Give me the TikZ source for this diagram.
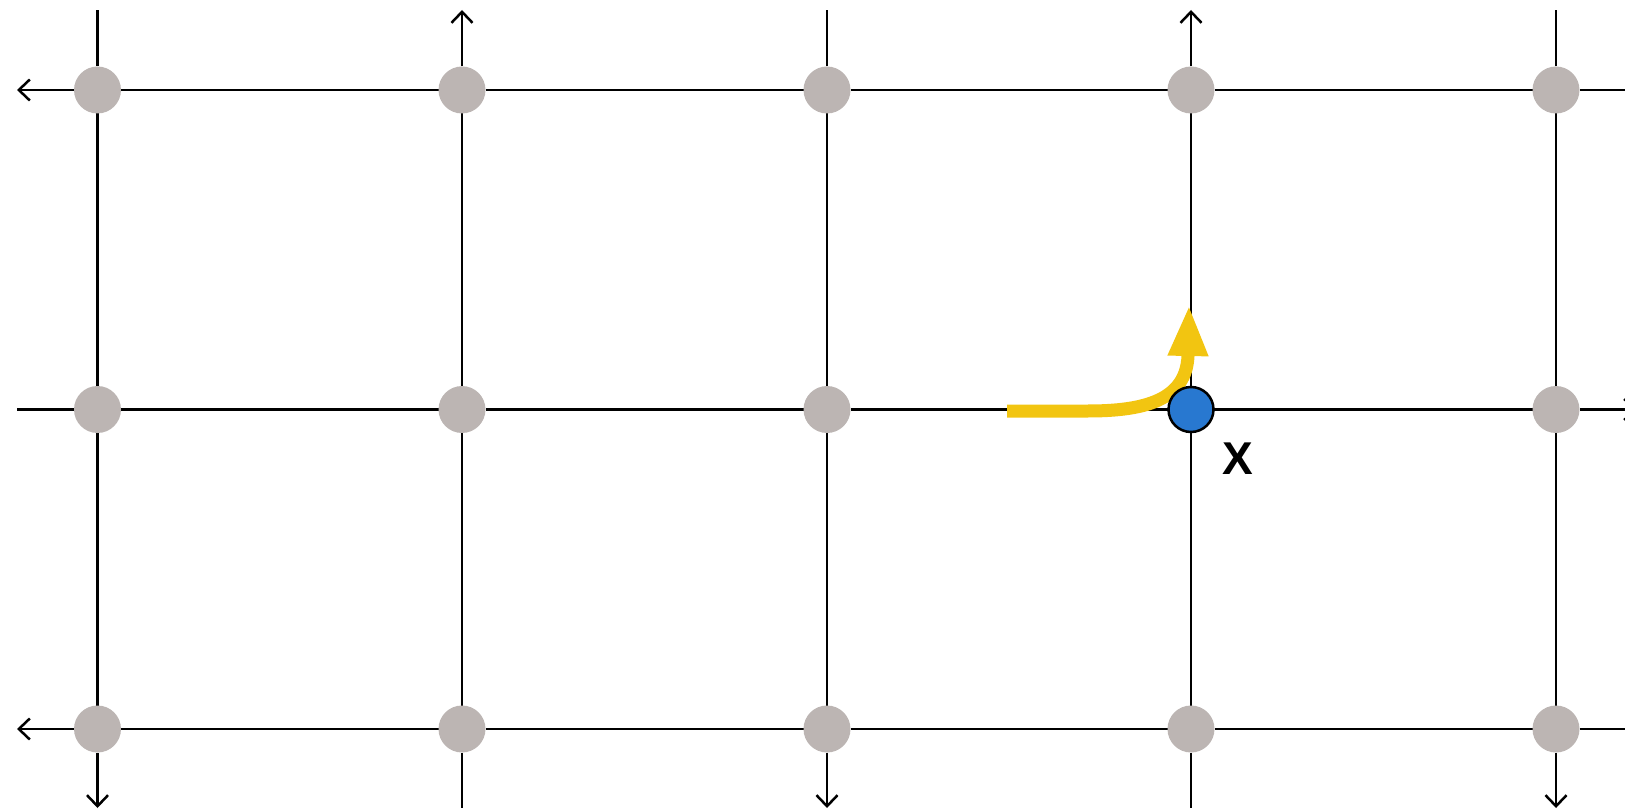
\documentclass[tikz,border=0pt]{standalone}
\usepackage{fontspec}
\setmainfont{Liberation Sans}
\usetikzlibrary{arrows.meta}
\definecolor{nodegray}{HTML}{BCB5B3}
\definecolor{xblue}{HTML}{2878D0}
\definecolor{pathyellow}{HTML}{F2C511}
\pgfdeclarelayer{bg}
\pgfsetlayers{bg,main}
\begin{document}
\begin{tikzpicture}[x=1pt,y=-1pt,
  gridline/.style={line width=2.5pt,black},
  tipend/.style={-{Straight Barb[length=11pt,width=21pt,line width=2.5pt]}},
  site/.style={circle,fill=nodegray,minimum size=47pt,inner sep=0pt,outer sep=0pt},
  agent/.style={circle,fill=xblue,draw=black,line width=2.5pt,minimum size=45pt,inner sep=0pt,outer sep=0pt},
  move/.style={pathyellow,line width=13pt,-{Triangle[length=51pt,width=37pt]}},
  lbl/.style={font=\bfseries\fontsize{46}{46}\selectfont,inner sep=0pt}]
\useasboundingbox (0,0) rectangle (1625,810);
% nodes
\foreach \c/\x in {1/97.5,2/462,3/827,4/1191,5/1556}{
  \foreach \r/\y in {1/90,2/409.5,3/729}{
    \ifnum\c\r=42\relax
      \node[agent] (n\c\r) at (\x,\y) {};
    \else
      \node[site] (n\c\r) at (\x,\y) {};
    \fi
  }
  \coordinate (top\c) at (\x,10);
  \coordinate (bot\c) at (\x,808);
}
\foreach \r/\y in {1/90,2/409.5,3/729}{
  \coordinate (left\r) at (17,\y);
  \coordinate (right\r) at (1637,\y);
}
\node[lbl] (xlab) at (1238,459) {X};
\coordinate (ystart) at (1007,411);
\begin{pgfonlayer}{bg}
  % horizontal
  \foreach \r in {1,2,3}{
    \foreach \a/\b in {1/2,2/3,3/4,4/5}{
      \draw[gridline] (n\a\r) -- (n\b\r);
    }
  }
  \draw[gridline,tipend] (n11) -- (left1);
  \draw[gridline] (n12) -- (left2);
  \draw[gridline,tipend] (n13) -- (left3);
  \draw[gridline] (n51) -- (right1);
  \draw[gridline,tipend] (n52) -- (right2);
  \draw[gridline] (n53) -- (right3);
  % vertical
  \foreach \c in {1,2,3,4,5}{
    \draw[gridline] (n\c1) -- (n\c2);
    \draw[gridline] (n\c2) -- (n\c3);
  }
  \draw[gridline] (n11) -- (top1);
  \draw[gridline,tipend] (n21) -- (top2);
  \draw[gridline] (n31) -- (top3);
  \draw[gridline,tipend] (n41) -- (top4);
  \draw[gridline] (n51) -- (top5);
  \draw[gridline,tipend] (n13) -- (bot1);
  \draw[gridline] (n23) -- (bot2);
  \draw[gridline,tipend] (n33) -- (bot3);
  \draw[gridline] (n43) -- (bot4);
  \draw[gridline,tipend] (n53) -- (bot5);
  % yellow move
  \draw[move] (ystart) -- (1088,411) .. controls (1145,411) and (1186,400) .. (1188,356) -- (1189,305);
\end{pgfonlayer}
\end{tikzpicture}
\end{document}
